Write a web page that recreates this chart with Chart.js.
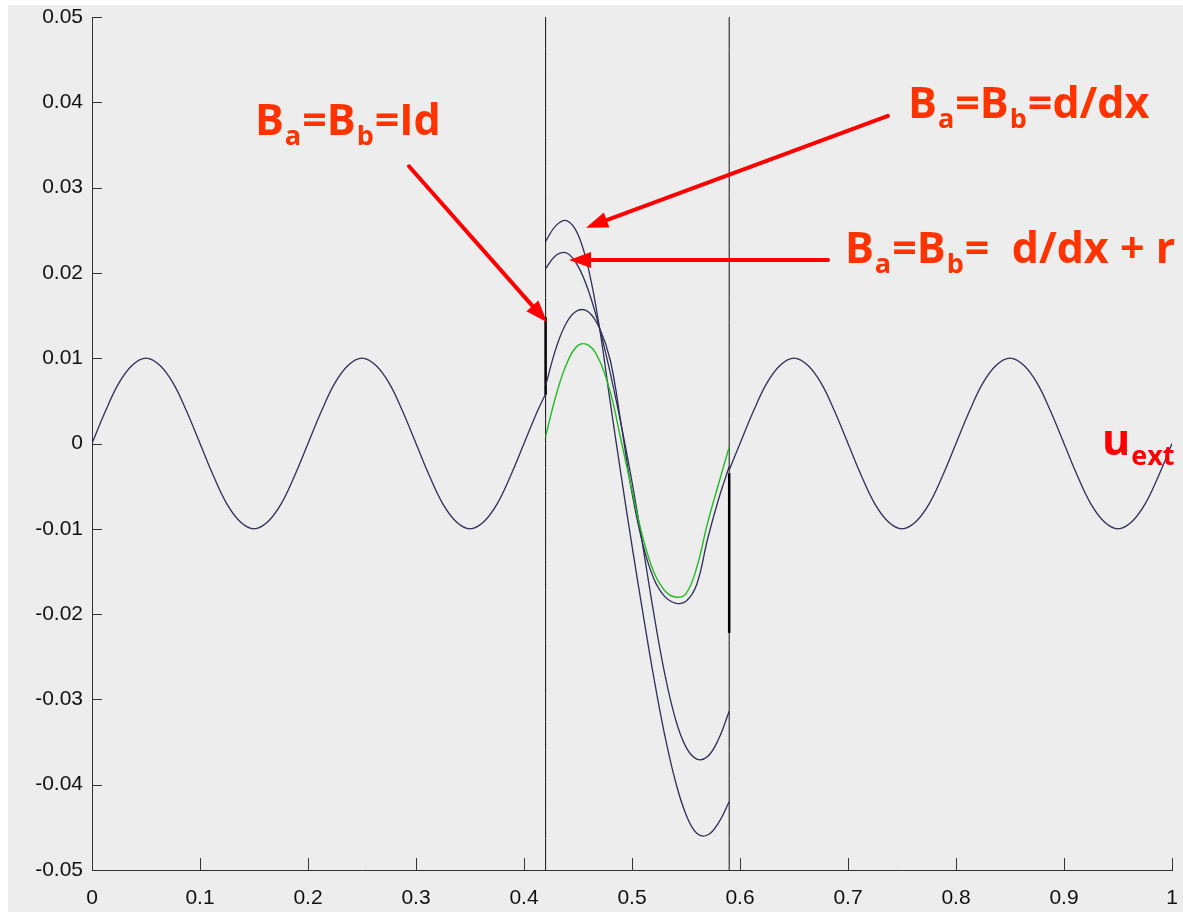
<!DOCTYPE html>
<html>
<head>
<meta charset="utf-8">
<script src="https://cdn.jsdelivr.net/npm/chart.js@4.4.1/dist/chart.umd.min.js"></script>
<style>
  html, body { margin: 0; padding: 0; background: #fff; }
  #wrap { position: relative; width: 1183px; height: 912px; }
</style>
</head>
<body>
<div id="wrap"><canvas id="chart" width="1183" height="912"></canvas></div>
<script>
// u_ext outside the coupling zone (left part, 0 -> 0.42)
const uextLeftX = [0, 0.0125, 0.025, 0.0375, 0.05, 0.0625, 0.075, 0.0875, 0.1, 0.1125, 0.125, 0.1375,
  0.15, 0.1625, 0.175, 0.1875, 0.2, 0.2125, 0.225, 0.2375, 0.25, 0.2625, 0.275, 0.2875, 0.3, 0.3125,
  0.325, 0.3375, 0.35, 0.3625, 0.375, 0.3875, 0.4, 0.4125, 0.42];
const uextLeftY = [0, 0.0038, 0.0071, 0.0092, 0.01, 0.0092, 0.0071, 0.0038, 0, -0.0038, -0.0071, -0.0092,
  -0.01, -0.0092, -0.0071, -0.0038, 0, 0.0038, 0.0071, 0.0092, 0.01, 0.0092, 0.0071, 0.0038, 0, -0.0038,
  -0.0071, -0.0092, -0.01, -0.0092, -0.0071, -0.0038, 0, 0.0038, 0.0058];

// u_ext right part (0.59 -> 1)
const uextRightX = [0.59, 0.6, 0.6125, 0.625, 0.6375, 0.65, 0.6625, 0.675, 0.6875, 0.7, 0.7125, 0.725,
  0.7375, 0.75, 0.7625, 0.775, 0.7875, 0.8, 0.8125, 0.825, 0.8375, 0.85, 0.8625, 0.875, 0.8875, 0.9,
  0.9125, 0.925, 0.9375, 0.95, 0.9625, 0.975, 0.9875, 1];
const uextRightY = [-0.0031, 0, 0.0038, 0.0071, 0.0092, 0.01, 0.0092, 0.0071, 0.0038, 0, -0.0038, -0.0071,
  -0.0092, -0.01, -0.0092, -0.0071, -0.0038, 0, 0.0038, 0.0071, 0.0092, 0.01, 0.0092, 0.0071, 0.0038, 0,
  -0.0038, -0.0071, -0.0092, -0.01, -0.0092, -0.0071, -0.0038, 0];

// solutions inside the zone [0.42, 0.59]
const innerX = [0.42, 0.43, 0.44, 0.45, 0.46, 0.47, 0.48, 0.49, 0.50, 0.51, 0.52, 0.53, 0.54, 0.55, 0.56, 0.57, 0.58, 0.59];
const ddxY = [0.0237, 0.0256, 0.0261, 0.0245, 0.0203, 0.0135, 0.0047, -0.0038, -0.0120, -0.0198, -0.0273, -0.0340,
  -0.0395, -0.0435, -0.0457, -0.0459, -0.0445, -0.0420];
const ddxRY = [0.0205, 0.0221, 0.0223, 0.0208, 0.0178, 0.0135, 0.0082, 0.0022, -0.0045, -0.0120, -0.0198, -0.0268,
  -0.0322, -0.0356, -0.0370, -0.0367, -0.0347, -0.0314];
const idY = [0.0068, 0.0113, 0.0143, 0.0156, 0.0154, 0.0135, 0.0097, 0.0022, -0.0058, -0.0118, -0.0158, -0.0179,
  -0.0187, -0.0185, -0.0165, -0.0112, -0.0066, -0.0027];
const refY = [0.0008, 0.0058, 0.0095, 0.0115, 0.0115, 0.0097, 0.0060, 0.0003, -0.0055, -0.0110, -0.0150, -0.0172,
  -0.0180, -0.0176, -0.0145, -0.0093, -0.0048, -0.0004];

// zone boundaries and jumps
const zoneX = [0.42, 0.59];
const jumpLeftY = [0.0057, 0.0148];
const jumpRightY = [-0.0035, -0.0222];

const xTickValues = [0, 0.1, 0.2, 0.3, 0.4, 0.5, 0.6, 0.7, 0.8, 0.9, 1];
const xTickLabels = ['0', '0.1', '0.2', '0.3', '0.4', '0.5', '0.6', '0.7', '0.8', '0.9', '1'];
const yTickValues = [-0.05, -0.04, -0.03, -0.02, -0.01, 0, 0.01, 0.02, 0.03, 0.04, 0.05];
const yTickLabels = ['-0.05', '-0.04', '-0.03', '-0.02', '-0.01', '0', '0.01', '0.02', '0.03', '0.04', '0.05'];

// annotations (data coordinates)
const notes = [
  { x: 0.1509, y: 0.0362, color: '#ff3300', parts: [['B', 0], ['a', 1], ['=B', 0], ['b', 1], ['=Id', 0]] },
  { x: 0.7556, y: 0.0382, color: '#ff3300', parts: [['B', 0], ['a', 1], ['=B', 0], ['b', 1], ['=d/dx', 0]] },
  { x: 0.6972, y: 0.0212, color: '#ff3300', parts: [['B', 0], ['a', 1], ['=B', 0], ['b', 1], ['=  d/dx + r', 0]] },
  { x: 0.9352, y: -0.0013, color: '#ff0000', parts: [['u', 0], ['ext', 1]] }
];
const arrows = [
  { from: [0.2935, 0.0325], to: [0.4213, 0.0142] },
  { from: [0.7370, 0.0384], to: [0.4574, 0.0253] },
  { from: [0.6815, 0.0215], to: [0.4417, 0.0215] }
];

const pts = (xs, ys) => xs.map((x, i) => ({ x: x, y: ys[i] }));
const curveColor = '#2e2e58';

const line = (data, color, width) => ({
  data: data, borderColor: color, borderWidth: width, pointRadius: 0, fill: false, tension: 0.4
});

const figurePlugin = {
  id: 'figure',
  beforeDraw(chart) {
    const ctx = chart.ctx;
    ctx.save();
    ctx.fillStyle = '#ededed';
    ctx.fillRect(8, 5, chart.width - 8, chart.height - 5);
    ctx.restore();
  },
  afterDraw(chart) {
    const { ctx, chartArea: a, scales: { x, y } } = chart;
    ctx.save();
    // inward tick marks
    ctx.strokeStyle = '#333';
    ctx.lineWidth = 1;
    ctx.beginPath();
    y.ticks.forEach(t => {
      const py = Math.round(y.getPixelForValue(t.value)) + 0.5;
      ctx.moveTo(a.left, py); ctx.lineTo(a.left + 10, py);
    });
    x.ticks.forEach(t => {
      const px = Math.round(x.getPixelForValue(t.value)) + 0.5;
      ctx.moveTo(px, a.bottom); ctx.lineTo(px, a.bottom - 12);
    });
    ctx.stroke();

    // arrows
    ctx.strokeStyle = '#ff0000';
    ctx.fillStyle = '#ff0000';
    ctx.lineWidth = 4;
    ctx.lineCap = 'round';
    arrows.forEach(ar => {
      const x0 = x.getPixelForValue(ar.from[0]), y0 = y.getPixelForValue(ar.from[1]);
      const x1 = x.getPixelForValue(ar.to[0]), y1 = y.getPixelForValue(ar.to[1]);
      const ang = Math.atan2(y1 - y0, x1 - x0);
      const head = 22, half = 8;
      const bx = x1 - head * Math.cos(ang), by = y1 - head * Math.sin(ang);
      ctx.beginPath();
      ctx.moveTo(x0, y0); ctx.lineTo(bx, by);
      ctx.stroke();
      ctx.beginPath();
      ctx.moveTo(x1, y1);
      ctx.lineTo(bx + half * Math.sin(ang), by - half * Math.cos(ang));
      ctx.lineTo(bx - half * Math.sin(ang), by + half * Math.cos(ang));
      ctx.closePath();
      ctx.fill();
    });

    // labels with subscripts
    ctx.textBaseline = 'alphabetic';
    ctx.textAlign = 'left';
    notes.forEach(n => {
      let px = x.getPixelForValue(n.x);
      const py = y.getPixelForValue(n.y);
      ctx.fillStyle = n.color;
      n.parts.forEach(([txt, sub]) => {
        ctx.font = sub ? 'bold 27px "Open Sans"' : 'bold 43px "Open Sans"';
        ctx.fillText(txt, px, sub ? py + 10 : py);
        px += ctx.measureText(txt).width + 1;
      });
    });
    ctx.restore();
  }
};

new Chart(document.getElementById('chart'), {
  type: 'line',
  data: {
    datasets: [
      line(pts(innerX, refY), '#22bb22', 1.4),
      line(pts(innerX, idY), curveColor, 1.3),
      line(pts(innerX, ddxRY), curveColor, 1.3),
      line(pts(innerX, ddxY), curveColor, 1.3),
      line(pts(uextLeftX, uextLeftY), curveColor, 1.3),
      line(pts(uextRightX, uextRightY), curveColor, 1.3),
      line(pts([zoneX[0], zoneX[0]], jumpLeftY), '#000', 2.5),
      line(pts([zoneX[1], zoneX[1]], jumpRightY), '#000', 2.5),
      line(pts([zoneX[0], zoneX[0]], [-0.05, 0.05]), '#111', 1),
      line(pts([zoneX[1], zoneX[1]], [-0.05, 0.05]), '#111', 1)
    ]
  },
  options: {
    responsive: false,
    animation: false,
    events: [],
    layout: { padding: { top: 17, right: 11, left: 0, bottom: 0 } },
    plugins: { legend: { display: false }, tooltip: { enabled: false } },
    scales: {
      x: {
        type: 'linear', min: 0, max: 1,
        afterBuildTicks: s => { s.ticks = xTickValues.map(v => ({ value: v })); },
        afterFit: s => { s.height = 42; s.paddingLeft = 0; s.paddingRight = 0; },
        grid: { display: true, drawOnChartArea: false, drawTicks: false },
        border: { display: true, color: '#333', width: 1 },
        ticks: {
          padding: 16, color: '#111', maxRotation: 0,
          font: { family: '"Liberation Sans", Arial, sans-serif', size: 21 },
          callback: (v, i) => xTickLabels[i]
        }
      },
      y: {
        type: 'linear', min: -0.05, max: 0.05,
        afterBuildTicks: s => { s.ticks = yTickValues.map(v => ({ value: v })); },
        afterFit: s => { s.width = 92; s.paddingTop = 0; s.paddingBottom = 0; },
        grid: { display: true, drawOnChartArea: false, drawTicks: false },
        border: { display: true, color: '#333', width: 1 },
        ticks: {
          padding: 9, color: '#111',
          font: { family: '"Liberation Sans", Arial, sans-serif', size: 21 },
          callback: (v, i) => yTickLabels[i]
        }
      }
    }
  },
  plugins: [figurePlugin]
});
</script>
</body>
</html>
